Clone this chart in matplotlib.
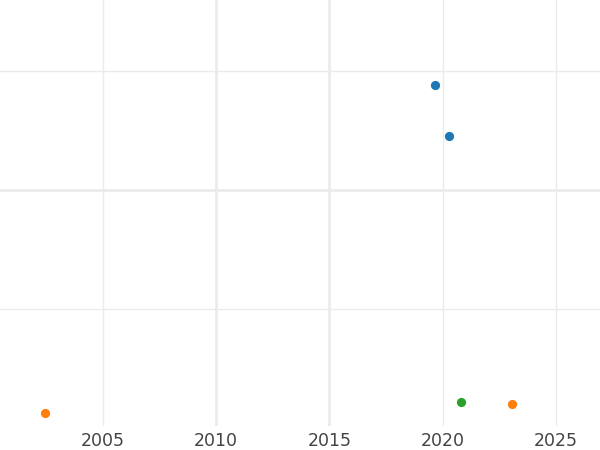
import matplotlib
matplotlib.use("Agg")
import matplotlib.pyplot as plt

# data (y axis has no labels, units arbitrary)
blue_x = [2019.65, 2020.3]
blue_y = [2.88, 2.45]
orange_x = [2002.45, 2023.05]
orange_y = [0.12, 0.195]
green_x = [2020.8]
green_y = [0.212]

x_ticks = [2005, 2010, 2015, 2020, 2025]
y_grid = [1, 2, 3]
thick_x = [2010, 2015]
thick_y = [2]

fig = plt.figure(figsize=(6, 4.5), dpi=100)
ax = fig.add_axes([0, 1 - 426 / 450, 1, 426 / 450])

ax.scatter(blue_x, blue_y, s=44, color="#1f77b4", zorder=3, linewidths=0)
ax.scatter(orange_x, orange_y, s=44, color="#ff7f0e", zorder=3, linewidths=0)
ax.scatter(green_x, green_y, s=44, color="#2ca02c", zorder=3, linewidths=0)

ax.set_xlim(2000.45, 2026.95)
ax.set_ylim(0.01, 3.6)
ax.set_xticks(x_ticks)
ax.set_yticks(y_grid)
ax.set_yticklabels([])
ax.tick_params(axis="x", length=0, pad=4, labelsize=12.5, labelcolor="#444444")
ax.tick_params(axis="y", length=0)
for s in ax.spines.values():
    s.set_visible(False)

ax.grid(True, color="#ebebeb", linewidth=1)
ax.set_axisbelow(True)
for t, gl in zip(x_ticks, ax.xaxis.get_gridlines()):
    if t in thick_x:
        gl.set_linewidth(2)
for t, gl in zip(y_grid, ax.yaxis.get_gridlines()):
    if t in thick_y:
        gl.set_linewidth(2)

plt.savefig("out.png", dpi=100)
